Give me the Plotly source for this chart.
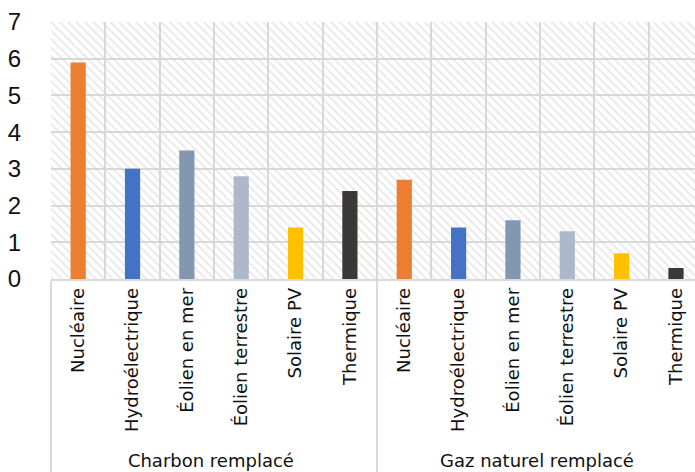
import plotly.graph_objects as go

# Replaced fuel (outer category) and technology (inner category)
groups = ["Charbon remplacé"] * 6 + ["Gaz naturel remplacé"] * 6
techs = ["Nucléaire", "Hydroélectrique", "Éolien en mer",
         "Éolien terrestre", "Solaire PV", "Thermique"] * 2
values = [5.9, 3.0, 3.5, 2.8, 1.4, 2.4,
          2.7, 1.4, 1.6, 1.3, 0.7, 0.3]
y_ticks = [0, 1, 2, 3, 4, 5, 6, 7]

tech_colors = {
    "Nucléaire": "#ED7D31",
    "Hydroélectrique": "#4472C4",
    "Éolien en mer": "#8497B0",
    "Éolien terrestre": "#ADB9CA",
    "Solaire PV": "#FFC000",
    "Thermique": "#3B3838",
}

y_max = y_ticks[-1]
grid = "#D9D9D9"

fig = go.Figure()

# Hatched plot background: one full-width bar per category up to the axis top
fig.add_trace(go.Bar(
    x=[groups, techs],
    y=[y_max] * len(techs),
    width=1,
    marker=dict(
        color="rgba(0,0,0,0)",
        line=dict(width=0),
        pattern=dict(shape="\\", fgcolor="#D0D0D0", bgcolor="rgba(0,0,0,0)",
                     size=6, solidity=0.3),
    ),
    hoverinfo="skip",
    showlegend=False,
))

# Data bars
fig.add_trace(go.Bar(
    x=[groups, techs],
    y=values,
    width=0.28,
    marker=dict(color=[tech_colors[t] for t in techs], line=dict(width=0)),
    showlegend=False,
))

fig.update_layout(
    width=695,
    height=472,
    margin=dict(l=51, r=0, t=22, b=193),
    barmode="overlay",
    plot_bgcolor="white",
    paper_bgcolor="white",
    showlegend=False,
)

fig.update_xaxes(
    type="multicategory",
    range=[-0.5, 11.35],
    tickangle=-90,
    tickfont=dict(family="DejaVu Sans", size=18, color="#111111"),
    showgrid=True,
    gridcolor=grid,
    gridwidth=1.5,
    tickson="boundaries",
    ticks="",
    showline=True,
    linecolor=grid,
    linewidth=1.5,
    showdividers=True,
    dividercolor=grid,
    dividerwidth=1.5,
)

fig.update_yaxes(
    range=[0, y_max],
    tickvals=y_ticks,
    tickfont=dict(family="Liberation Sans, Arial", size=24, color="#111111"),
    showgrid=True,
    gridcolor=grid,
    gridwidth=1.5,
    zeroline=False,
    showline=False,
    ticks="outside",
    ticklen=24,
    tickcolor="rgba(0,0,0,0)",
)

fig.write_html("out.html")
